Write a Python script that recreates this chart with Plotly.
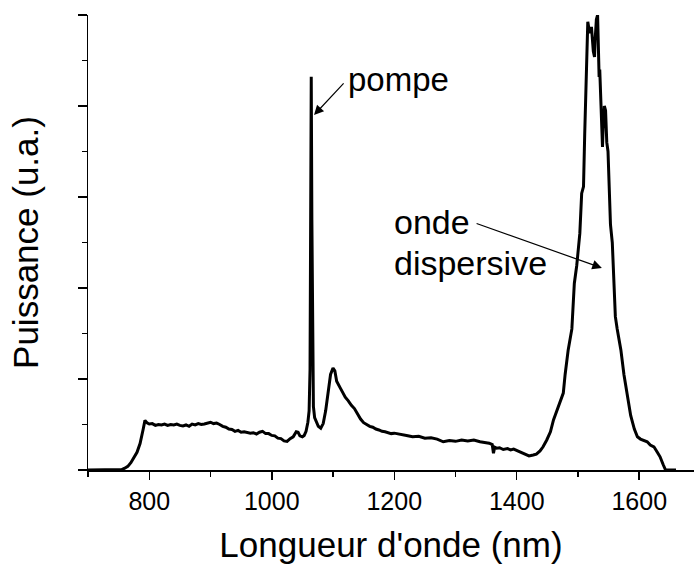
import plotly.graph_objects as go

# Wavelength (nm) and power (a.u.)
wavelength = [
    700, 720, 740, 750, 755, 760, 765, 770, 775, 780, 785, 788, 790, 793, 795, 797,
    800, 805, 810, 815, 820, 825, 830, 835, 840, 845, 850, 855, 860, 865, 870, 875,
    880, 885, 890, 895, 900, 905, 910, 915, 920, 925, 930, 935, 940, 945, 950, 955,
    960, 965, 970, 975, 980, 985, 990, 995, 1000, 1005, 1010, 1015, 1020, 1025, 1030,
    1035, 1040, 1043, 1046, 1050, 1053, 1056, 1059, 1061, 1062.5, 1063.5, 1064.5,
    1065.5, 1066.5, 1068, 1070, 1073, 1076, 1080, 1084, 1088, 1092, 1096, 1100, 1103,
    1106, 1109, 1112, 1116, 1120, 1125, 1130, 1135, 1140, 1145, 1150, 1155, 1160,
    1165, 1170, 1175, 1180, 1185, 1190, 1195, 1200, 1210, 1220, 1230, 1240, 1250,
    1260, 1270, 1280, 1290, 1300, 1310, 1320, 1330, 1340, 1350, 1355, 1360, 1362,
    1364, 1367, 1372, 1378, 1385, 1390, 1395, 1400, 1405, 1410, 1415, 1420, 1427,
    1432, 1438, 1443, 1449, 1455, 1460, 1466, 1471, 1476, 1479, 1484, 1490, 1494,
    1498, 1501, 1503, 1506, 1509, 1511, 1513, 1516, 1519, 1522, 1525, 1527, 1528,
    1530, 1532, 1533, 1534.5, 1535.5, 1538, 1540, 1541, 1543, 1545, 1547, 1549,
    1551, 1553, 1556, 1558, 1561, 1564, 1567, 1570, 1575, 1580, 1586, 1592, 1597,
    1602, 1608, 1613, 1618, 1624, 1629, 1634, 1639, 1643, 1646, 1660, 1690,
]
power = [
    0, 0, 0, 0.05, 0.1, 0.4, 0.8, 1.6, 2.7, 3.9, 5.8, 7.3, 8.9, 10.9, 10.5, 10.3,
    10.1, 10.2, 9.8, 10.0, 9.9, 10.1, 9.8, 10.0, 9.9, 10.1, 9.8, 9.7, 9.9, 9.6, 10.1, 9.9,
    10.2, 10.0, 10.1, 10.3, 10.5, 10.2, 10.3, 10.0, 9.6, 9.4, 9.0, 8.9, 8.5, 8.7, 8.3, 8.4,
    8.2, 8.1, 8.2, 7.9, 8.3, 8.5, 8.0, 8.0, 7.6, 7.5, 7.0, 6.9, 6.4, 6.3, 6.9,
    7.3, 8.4, 8.3, 7.5, 7.3, 7.6, 8.5, 10.5, 13, 22, 55, 86.4,
    55, 25, 14, 11.5, 10.3, 9.6, 9.2, 10.2, 13, 17.5, 21, 22.4, 21.8,
    19.5, 18.6, 18.0, 17.0, 16.0, 15.2, 14.2, 13.5, 12.2, 11.2, 10.4, 10.0, 9.6,
    9.4, 9.0, 8.8, 8.5, 8.4, 8.2, 8.0, 8.1, 7.9, 7.6, 7.3, 7.4, 7.0,
    7.1, 6.8, 6.2, 6.5, 6.3, 6.6, 6.4, 6.6, 6.2, 6.0, 5.9, 5.6, 3.7,
    5.0, 4.8, 4.9, 4.5, 4.7, 4.4, 4.6, 4.3, 4.1, 3.8, 3.5, 3.1,
    3.3, 3.5, 4.2, 5.1, 6.6, 8.4, 11.0, 13.2, 15.5, 16.9, 21, 26.4, 31,
    41, 45, 48.4, 52, 60.8, 62.3, 74, 84, 98.5, 96, 97.4, 92, 90.8,
    94.5, 99, 100, 90, 86.4, 88, 80, 71, 75, 80, 79, 72,
    70, 59.3, 54, 50, 42, 33.7, 31, 29, 26.4, 21, 16.9, 12, 9,
    7.3, 6.8, 6.4, 6.2, 5.5, 5.1, 4.0, 2.9, 1.2, 0, 0, 0,
]

x_ticks = [800, 1000, 1200, 1400, 1600]
x_title = "Longueur d'onde (nm)"
y_title = "Puissance (u.a.)"
labels = ["pompe", "onde", "dispersive"]

FONT = "Arial, 'Liberation Sans', Helvetica, sans-serif"

fig = go.Figure()
fig.add_trace(go.Scatter(
    x=wavelength, y=power, mode="lines",
    line=dict(color="black", width=3), hoverinfo="skip", showlegend=False,
    cliponaxis=False,
))

# arrows (text-less annotations)
fig.add_annotation(x=1069, y=78.0, ax=1119.6, ay=85.3, axref="x", ayref="y",
                   xref="x", yref="y", text="", showarrow=True,
                   arrowhead=2, arrowsize=1.6, arrowwidth=1.2, arrowcolor="black")
fig.add_annotation(x=1539, y=44.4, ax=1332, ay=54.3, axref="x", ayref="y",
                   xref="x", yref="y", text="", showarrow=True,
                   arrowhead=2, arrowsize=1.6, arrowwidth=1.2, arrowcolor="black")

# labels
fig.add_annotation(x=1122, y=85.8, xref="x", yref="y", text=labels[0],
                   showarrow=False, xanchor="left", yanchor="middle",
                   font=dict(family=FONT, size=33, color="black"))
fig.add_annotation(x=1196, y=54.4, xref="x", yref="y", text=labels[1],
                   showarrow=False, xanchor="left", yanchor="middle",
                   font=dict(family=FONT, size=34, color="black"))
fig.add_annotation(x=1196, y=45.4, xref="x", yref="y", text=labels[2],
                   showarrow=False, xanchor="left", yanchor="middle",
                   font=dict(family=FONT, size=34, color="black"))

fig.update_xaxes(
    range=[700, 1689.4], tickmode="array", tickvals=x_ticks,
    ticks="outside", ticklen=8, tickwidth=1.5, tickcolor="black",
    showline=True, linewidth=1.5, linecolor="black", showgrid=False, zeroline=False,
    tickfont=dict(family=FONT, size=25, color="black"),
    minor=dict(tickmode="linear", tick0=700, dtick=100, ticks="outside",
               ticklen=5, tickwidth=1.5, tickcolor="black", showgrid=False),
    title=dict(text=x_title, font=dict(family=FONT, size=35, color="black"), standoff=23),
)
fig.update_yaxes(
    range=[0, 100], tickmode="linear", tick0=0, dtick=20, showticklabels=False,
    ticks="outside", ticklen=9, tickwidth=1.5, tickcolor="black",
    showline=True, linewidth=1.5, linecolor="black", showgrid=False, zeroline=False,
    minor=dict(tickmode="linear", tick0=0, dtick=10, ticks="outside",
               ticklen=5, tickwidth=1.5, tickcolor="black", showgrid=False),
    title=dict(text=y_title, font=dict(family=FONT, size=35, color="black"), standoff=28),
)
fig.update_layout(
    width=694, height=564,
    margin=dict(l=88, r=0, t=15, b=94),
    plot_bgcolor="white", paper_bgcolor="white",
    font=dict(family=FONT, color="black"),
)
# remove the default page margin so the figure fills the window exactly
fig.write_html(
    "out.html",
    config={"displayModeBar": False, "staticPlot": True},
    post_script="document.body.style.margin='0';document.body.style.overflow='hidden';",
)
